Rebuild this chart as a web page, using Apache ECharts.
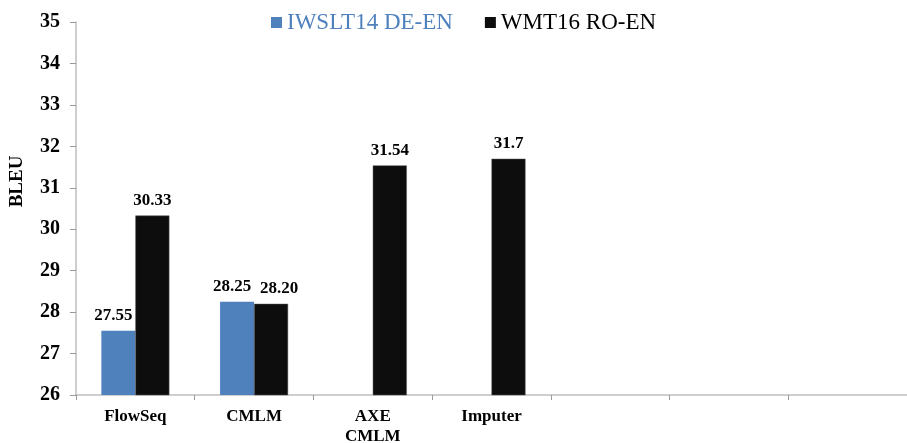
<!DOCTYPE html>
<html><head><meta charset="utf-8">
<script src="https://cdn.jsdelivr.net/npm/echarts@6/dist/echarts.min.js"></script>
<style>html,body{margin:0;padding:0;background:#fff}#c{width:907px;height:443px}</style>
</head><body><div id="c"></div>
<script>
var categories = ['FlowSeq', 'CMLM', 'AXE\nCMLM', 'Imputer', '', '', ''];
var iwsltValues = [27.55, 28.25, null, null, null, null, null];
var iwsltLabels = ['27.55', '28.25', '', '', '', '', ''];
var wmtValues = [30.33, 28.20, 31.54, 31.7, null, null, null];
var wmtLabels = ['30.33', '28.20', '31.54', '31.7', '', '', ''];
var yTicks = [26, 35, 1];

var font = '"Liberation Serif", "Times New Roman", serif';
var chart = echarts.init(document.getElementById('c'));
function lbl(arr) {
  return {
    show: true, position: 'top', distance: 6.5,
    fontFamily: font, fontWeight: 'bold', fontSize: 17, color: '#000',
    formatter: function (p) { return arr[p.dataIndex]; }
  };
}
chart.setOption({
  animation: false,
  legend: {
    top: 6, left: 266, itemGap: 32, itemWidth: 11, itemHeight: 11,
    icon: 'rect',
    itemStyle: { borderWidth: 0 },
    textStyle: { fontFamily: font, fontSize: 23 },
    data: [
      { name: 'IWSLT14 DE-EN', textStyle: { color: '#4f81bd' } },
      { name: 'WMT16 RO-EN', textStyle: { color: '#000' } }
    ]
  },
  grid: { left: 76, right: 0, top: 22, bottom: 48, containLabel: false, outerBoundsMode: 'none' },
  xAxis: {
    type: 'category', data: categories,
    axisLine: { lineStyle: { color: '#bfbfbf', width: 1.5 } },
    axisTick: { show: true, alignWithLabel: false, length: 5, lineStyle: { color: '#999' } },
    axisLabel: { fontFamily: font, fontWeight: 'bold', fontSize: 17, color: '#000', margin: 12, lineHeight: 20, interval: 0 }
  },
  yAxis: {
    type: 'value', min: yTicks[0], max: yTicks[1], interval: yTicks[2],
    name: 'BLEU', nameLocation: 'middle', nameGap: 49, nameRotate: 90,
    nameTextStyle: { fontFamily: font, fontWeight: 'bold', fontSize: 19, color: '#000', padding: [0, 0, 0, 54] },
    splitLine: { show: false },
    axisLine: { show: true, lineStyle: { color: '#bfbfbf', width: 1.5 } },
    axisTick: { show: true, length: 6, lineStyle: { color: '#999' } },
    axisLabel: { fontFamily: font, fontWeight: 'bold', fontSize: 20, color: '#000', margin: 16 }
  },
  series: [
    { name: 'IWSLT14 DE-EN', type: 'bar', data: iwsltValues, barWidth: 34, barGap: '0%',
      itemStyle: { color: '#4f81bd' }, label: lbl(iwsltLabels),
      labelLayout: { dx: -5 } },
    { name: 'WMT16 RO-EN', type: 'bar', data: wmtValues, barWidth: 34,
      itemStyle: { color: '#0d0d0d', borderColor: '#555', borderWidth: 0.5 }, label: lbl(wmtLabels),
      labelLayout: function (p) { return p.dataIndex === 1 ? { dx: 8 } : {}; } }
  ]
});
</script></body></html>
